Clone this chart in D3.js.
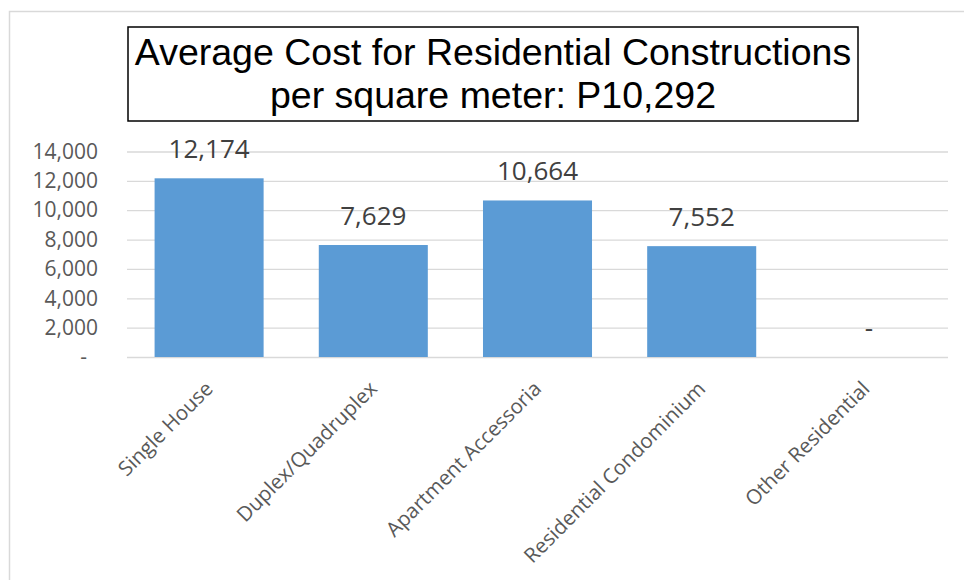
<!DOCTYPE html>
<html>
<head>
<meta charset="utf-8">
<script src="https://cdn.jsdelivr.net/npm/d3@7"></script>
<style>
  body { margin: 0; background: #fff; }
  svg { display: block; }
</style>
</head>
<body>
<script>
const width = 964, height = 580

const categories = ['Single House', 'Duplex/Quadruplex', 'Apartment Accessoria', 'Residential Condominium', 'Other Residential']
const costs = [12174, 7629, 10664, 7552, 0]
const yTicks = [0, 2000, 4000, 6000, 8000, 10000, 12000, 14000]
const titleLines = ['Average Cost for Residential Constructions', 'per square meter: P10,292']

const plot = { left: 127, right: 948, top: 151.5, bottom: 357 }

const fmt = d3.format(',')
const label = v => v === 0 ? '-' : fmt(v)

const svg = d3.select('body')
  .append('svg')
  .attr('width', width)
  .attr('height', height)

// chart area border
svg.append('rect')
  .attr('x', 9.5)
  .attr('y', 11.5)
  .attr('width', width + 20)
  .attr('height', height + 20)
  .attr('fill', 'none')
  .attr('stroke', '#d9d9d9')
  .attr('stroke-width', 1.5)

const xScale = d3.scaleBand()
  .domain(categories)
  .range([plot.left, plot.right])
  .paddingInner(0.336)
  .paddingOuter(0.168)

const yScale = d3.scaleLinear()
  .domain([0, 14000])
  .range([plot.bottom, plot.top])

// gridlines
svg.append('g')
  .attr('class', 'grid')
  .attr('transform', 'translate(' + plot.left + ',0)')
  .call(d3.axisLeft(yScale).tickValues(yTicks).tickSize(-(plot.right - plot.left)).tickFormat(''))
  .call(g => g.select('.domain').remove())
  .call(g => g.selectAll('line').attr('stroke', '#d9d9d9').attr('stroke-width', 1.3))

// y labels
const yAxis = svg.append('g')
  .attr('transform', 'translate(' + 98 + ',0)')
  .call(d3.axisLeft(yScale).tickValues(yTicks).tickSize(0).tickPadding(0).tickFormat(label))
yAxis.select('.domain').remove()
yAxis.selectAll('text')
  .attr('font-family', '"Open Sans", sans-serif')
  .attr('font-size', 21)
  .attr('fill', '#595959')
  .attr('dx', d => d === 0 ? -11 : 0)

// bars
svg.selectAll('rect.bar')
  .data(costs)
  .enter()
  .append('rect')
  .attr('class', 'bar')
  .attr('x', (d, i) => xScale(categories[i]))
  .attr('y', d => yScale(d))
  .attr('width', xScale.bandwidth())
  .attr('height', d => yScale(0) - yScale(d))
  .attr('fill', '#5b9bd5')

// value labels
svg.selectAll('text.value')
  .data(costs)
  .enter()
  .append('text')
  .attr('class', 'value')
  .attr('x', (d, i) => xScale(categories[i]) + xScale.bandwidth() / 2 + (d === 0 ? 3 : 0))
  .attr('y', d => yScale(d) - 20)
  .attr('text-anchor', 'middle')
  .attr('font-family', '"Open Sans", sans-serif')
  .attr('font-size', 26)
  .attr('fill', '#404040')
  .text(label)

// category labels
svg.selectAll('text.cat')
  .data(categories)
  .enter()
  .append('text')
  .attr('class', 'cat')
  .attr('transform', d => 'translate(' + (xScale(d) + xScale.bandwidth() / 2 + 5) + ',' + (plot.bottom + 33) + ')rotate(-45)')
  .attr('text-anchor', 'end')
  .attr('font-family', '"Open Sans", sans-serif')
  .attr('font-size', 20.5)
  .attr('fill', '#595959')
  .text(d => d)

// title box
svg.append('rect')
  .attr('x', 128)
  .attr('y', 27)
  .attr('width', 730)
  .attr('height', 94)
  .attr('fill', '#fff')
  .attr('stroke', '#000')
  .attr('stroke-width', 1.5)

svg.append('text')
  .attr('x', 493)
  .attr('y', 65)
  .attr('text-anchor', 'middle')
  .attr('font-family', '"Liberation Sans", Arial, sans-serif')
  .attr('font-size', 37.5)
  .attr('fill', '#000')
  .selectAll('tspan')
  .data(titleLines)
  .enter()
  .append('tspan')
  .attr('x', 493)
  .attr('dy', (d, i) => i === 0 ? 0 : 43)
  .text(d => d)
</script>
</body>
</html>
